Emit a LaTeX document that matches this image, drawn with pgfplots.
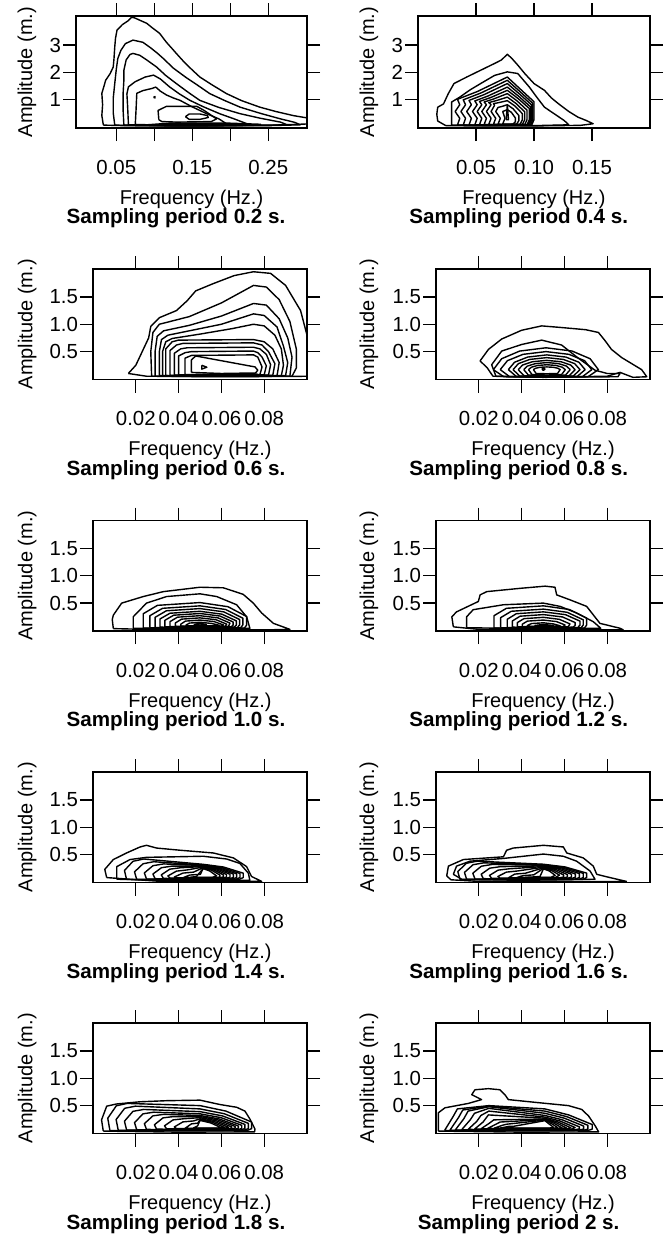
\documentclass[border=0pt]{standalone}
\usepackage{fontspec}
\setmainfont{Liberation Sans}
\usepackage{pgfplots}
\pgfplotsset{compat=1.18}

\newcommand\tkf{\fontsize{10.2}{12}\selectfont}
\newcommand\lbf{\fontsize{10}{12}\selectfont}
\newcommand\ttf{\fontsize{10.3}{12}\selectfont\bfseries}

\pgfplotsset{
  panel/.style={
    scale only axis, anchor=north west,
    axis line style={line width=0.8pt},
    tick align=outside, major tick length=6.5pt,
    every tick/.style={black, line width=0.65pt},
    scaled ticks=false,
    tick label style={font=\tkf},
    xticklabel style={yshift=-6pt},
    yticklabel style={xshift=2.5pt},
    xlabel={Frequency (Hz.)}, ylabel={Amplitude (m.)},
    label style={font=\lbf},
    xlabel style={at={(axis description cs:0.5,0)}, anchor=center, yshift=-35.5pt},
    clip=true,
  },
  toprow/.style={panel, height=56pt, ymin=-0.057, ymax=4.068,
    ytick={1,2,3}, yticklabels={1,2,3}},
  lowrow/.style={panel, width=107pt, height=55.25pt,
    xmin=0, xmax=0.1, ymin=-0.01, ymax=2.01,
    xtick={0.02,0.04,0.06,0.08}, xticklabels={0.02,0.04,0.06,0.08},
    ytick={0.5,1,1.5}, yticklabels={0.5,1.0,1.5}},
  ylab/.style={ylabel style={at={(axis description cs:#1,0.5)}, anchor=center}},
  ttl/.style={every axis title/.style={at={(axis description cs:#1,0)},
    anchor=center, yshift=-45.3pt, font=\ttf}},
  cl/.style={black, line width=0.7pt, mark=none, line join=round},
}

\begin{document}
\begin{tikzpicture}
\path[use as bounding box] (0,0) rectangle (335pt,-618pt);
\clip (0,0) rectangle (335pt,-618pt);

% ---------------- sampling period 0.2 s
\begin{axis}[toprow, at={(38pt,-8pt)}, width=115.5pt,
  xmin=-0.003, xmax=0.301,
  xtick={0.05,0.1,0.15,0.2,0.25}, xticklabels={0.05,,0.15,,0.25},
  ylab=-0.212, ttl=0.4329, title={Sampling period 0.2 s.}]
\addplot[cl] coordinates {(0.033,0.05) (0.031,0.40) (0.032,0.80) (0.031,1.22) (0.034,1.50) (0.036,1.70) (0.042,1.95) (0.046,2.19) (0.047,2.50) (0.048,2.93) (0.049,3.25) (0.051,3.55) (0.058,3.75) (0.066,3.90) (0.070,4.02) (0.074,4.00) (0.082,3.90) (0.090,3.80) (0.098,3.62) (0.107,3.43) (0.116,3.10) (0.124,2.85) (0.129,2.69) (0.140,2.35) (0.150,2.08) (0.160,1.82) (0.175,1.55) (0.195,1.21) (0.215,0.95) (0.239,0.71) (0.260,0.55) (0.283,0.40) (0.300,0.32) (0.310,0.28) (0.310,0.10) (0.25,0.04) (0.15,0.02) (0.06,0.03) (0.033,0.05)};
\addplot[cl] coordinates {(0.048,0.05) (0.046,0.50) (0.046,1.04) (0.048,1.58) (0.050,2.10) (0.052,2.50) (0.056,2.80) (0.062,3.05) (0.072,3.18) (0.085,3.10) (0.095,2.90) (0.104,2.70) (0.112,2.50) (0.125,2.15) (0.141,1.82) (0.158,1.50) (0.173,1.21) (0.193,0.95) (0.213,0.71) (0.240,0.48) (0.266,0.28) (0.285,0.15) (0.292,0.06) (0.25,0.03) (0.15,0.02) (0.08,0.03) (0.048,0.05)};
\addplot[cl] coordinates {(0.060,0.05) (0.059,0.60) (0.059,1.22) (0.060,1.70) (0.060,2.07) (0.063,2.45) (0.068,2.65) (0.072,2.69) (0.081,2.62) (0.090,2.45) (0.103,2.19) (0.115,1.88) (0.129,1.58) (0.145,1.25) (0.160,0.96) (0.185,0.70) (0.213,0.47) (0.240,0.30) (0.266,0.16) (0.275,0.06) (0.2,0.03) (0.1,0.03) (0.060,0.05)};
\addplot[cl] coordinates {(0.066,0.06) (0.065,0.70) (0.064,1.20) (0.066,1.46) (0.075,1.65) (0.088,1.82) (0.099,1.89) (0.108,1.75) (0.120,1.46) (0.133,1.20) (0.147,0.96) (0.165,0.72) (0.186,0.47) (0.205,0.28) (0.222,0.10) (0.2,0.05) (0.12,0.04) (0.066,0.06)};
\addplot[cl] coordinates {(0.075,0.07) (0.076,0.60) (0.077,1.22) (0.085,1.32) (0.097,1.40) (0.102,1.45) (0.108,1.30) (0.116,1.16) (0.125,1.05) (0.134,0.96) (0.150,0.72) (0.169,0.47) (0.185,0.28) (0.195,0.10) (0.15,0.06) (0.1,0.06) (0.075,0.07)};
\addplot[cl] coordinates {(0.099,1.07) (0.101,1.10) (0.101,1.05) (0.099,1.07)};
\addplot[cl] coordinates {(0.106,0.25) (0.105,0.59) (0.116,0.74) (0.156,0.74) (0.165,0.60) (0.182,0.28) (0.175,0.18) (0.130,0.16) (0.110,0.18) (0.106,0.25)};
\addplot[cl] coordinates {(0.141,0.36) (0.146,0.46) (0.160,0.46) (0.170,0.40) (0.171,0.33) (0.160,0.26) (0.146,0.26) (0.141,0.36)};
\addplot[cl] coordinates {(0.09,0.06) (0.12,0.12) (0.20,0.12) (0.24,0.08) (0.22,0.04) (0.10,0.04) (0.09,0.06)};
\addplot[cl] coordinates {(0.10,0.05) (0.14,0.09) (0.19,0.09) (0.21,0.06) (0.18,0.03) (0.11,0.03) (0.10,0.05)};
\end{axis}

% ---------------- sampling period 0.4 s
\begin{axis}[toprow, at={(209pt,-8pt)}, width=116pt,
  xmin=0, xmax=0.2,
  xtick={0.05,0.1,0.15}, xticklabels={0.05,0.10,0.15},
  ylab=-0.211, ttl=0.434, title={Sampling period 0.4 s.}]
\addplot[cl] coordinates {(0.024,0.03) (0.017,0.20) (0.0162,0.45) (0.017,0.71) (0.022,0.83) (0.026,1.20) (0.031,1.58) (0.042,1.82) (0.054,2.07) (0.066,2.32) (0.072,2.45) (0.077,2.66) (0.081,2.50) (0.086,2.26) (0.092,1.95) (0.100,1.58) (0.109,1.33) (0.115,1.05) (0.121,0.84) (0.130,0.55) (0.138,0.34) (0.145,0.22) (0.151,0.10) (0.14,0.04) (0.10,0.02) (0.05,0.02) (0.024,0.03)};
\addplot[cl] coordinates {(0.029,0.05) (0.029,0.50) (0.029,0.90) (0.036,1.08) (0.045,1.35) (0.054,1.58) (0.066,1.88) (0.077,2.01) (0.086,1.95) (0.091,1.70) (0.096,1.45) (0.102,1.10) (0.109,0.71) (0.118,0.45) (0.126,0.22) (0.130,0.06) (0.10,0.03) (0.029,0.05)};
\addplot[cl] coordinates {(0.034,0.05) (0.036,0.30) (0.032,0.55) (0.036,0.80) (0.034,1.00) (0.0512,1.287) (0.077,1.82) (0.0885,1.364) (0.100,0.91) (0.100,0.25) (0.098,0.05) (0.06,0.035) (0.034,0.05)};
\addplot[cl] coordinates {(0.039,0.05) (0.041,0.30) (0.037,0.55) (0.041,0.80) (0.039,0.98) (0.0542,1.232) (0.077,1.70) (0.088,1.28) (0.099,0.85) (0.099,0.25) (0.097,0.05) (0.06,0.04) (0.039,0.05)};
\addplot[cl] coordinates {(0.044,0.055) (0.046,0.30) (0.042,0.55) (0.046,0.80) (0.044,0.96) (0.0572,1.177) (0.077,1.58) (0.0875,1.196) (0.098,0.79) (0.098,0.25) (0.096,0.055) (0.06,0.045) (0.044,0.055)};
\addplot[cl] coordinates {(0.049,0.06) (0.051,0.30) (0.047,0.55) (0.051,0.80) (0.049,0.94) (0.0602,1.119) (0.077,1.45) (0.087,1.105) (0.097,0.72) (0.097,0.25) (0.095,0.06) (0.06,0.05) (0.049,0.06)};
\addplot[cl] coordinates {(0.053,0.065) (0.055,0.30) (0.051,0.55) (0.055,0.80) (0.053,0.92) (0.0626,1.064) (0.077,1.33) (0.0865,1.021) (0.096,0.66) (0.096,0.25) (0.094,0.065) (0.07,0.055) (0.053,0.065)};
\addplot[cl] coordinates {(0.057,0.07) (0.059,0.30) (0.055,0.55) (0.059,0.80) (0.057,0.90) (0.065,1.009) (0.077,1.21) (0.0855,0.937) (0.094,0.60) (0.094,0.25) (0.092,0.07) (0.07,0.06) (0.057,0.07)};
\addplot[cl] coordinates {(0.061,0.075) (0.063,0.30) (0.059,0.55) (0.063,0.80) (0.061,0.88) (0.0674,0.95) (0.077,1.08) (0.0845,0.846) (0.092,0.54) (0.092,0.25) (0.090,0.075) (0.07,0.065) (0.061,0.075)};
\addplot[cl] coordinates {(0.065,0.08) (0.067,0.30) (0.063,0.55) (0.066,0.78) (0.065,0.84) (0.0698,0.879) (0.077,0.95) (0.0835,0.755) (0.090,0.47) (0.090,0.25) (0.088,0.08) (0.075,0.07) (0.065,0.08)};
\addplot[cl] coordinates {(0.069,0.085) (0.071,0.30) (0.067,0.55) (0.069,0.70) (0.0722,0.735) (0.077,0.80) (0.082,0.65) (0.087,0.40) (0.087,0.22) (0.085,0.085) (0.075,0.075) (0.069,0.085)};
\addplot[cl] coordinates {(0.073,0.09) (0.075,0.30) (0.073,0.55) (0.0746,0.577) (0.077,0.62) (0.0805,0.52) (0.084,0.31) (0.084,0.18) (0.082,0.09) (0.073,0.09)};
\addplot[cl] coordinates {(0.076,0.25) (0.077,0.80) (0.078,0.25) (0.076,0.25)};
\end{axis}

% ---------------- sampling period 0.6 s
\begin{axis}[lowrow, at={(46.5pt,-134.5pt)},
  ylab=-0.308, ttl=0.3879, title={Sampling period 0.6 s.}]
\addplot[cl] coordinates {(0.0165,0.10) (0.020,0.25) (0.023,0.50) (0.026,0.75) (0.027,0.96) (0.031,1.12) (0.039,1.25) (0.044,1.43) (0.048,1.61) (0.056,1.74) (0.066,1.89) (0.075,1.96) (0.083,1.93) (0.090,1.71) (0.097,1.25) (0.100,0.80) (0.104,0.50) (0.104,0.05) (0.06,0.04) (0.025,0.05) (0.0165,0.10)};
\addplot[cl] coordinates {(0.0274,0.05) (0.027,0.50) (0.028,0.85) (0.031,1.00) (0.045,1.14) (0.060,1.39) (0.075,1.71) (0.081,1.68) (0.087,1.45) (0.092,1.05) (0.095,0.55) (0.095,0.20) (0.093,0.05) (0.06,0.045) (0.0274,0.05)};
\addplot[cl] coordinates {(0.029,0.05) (0.029,0.50) (0.030,0.78) (0.033,0.88) (0.045,0.98) (0.060,1.15) (0.075,1.38) (0.081,1.35) (0.087,1.10) (0.091,0.75) (0.093,0.40) (0.092,0.05) (0.06,0.05) (0.029,0.05)};
\addplot[cl] coordinates {(0.031,0.06) (0.031,0.50) (0.032,0.72) (0.035,0.80) (0.045,0.88) (0.060,1.00) (0.075,1.19) (0.080,1.16) (0.086,0.95) (0.089,0.60) (0.091,0.30) (0.090,0.06) (0.06,0.05) (0.031,0.06)};
\addplot[cl] coordinates {(0.0325,0.06) (0.0325,0.50) (0.034,0.68) (0.037,0.74) (0.050,0.82) (0.065,0.92) (0.075,1.00) (0.080,0.97) (0.085,0.80) (0.088,0.55) (0.089,0.25) (0.088,0.06) (0.06,0.055) (0.0325,0.06)};
\addplot[cl] coordinates {(0.034,0.06) (0.034,0.55) (0.037,0.68) (0.040,0.71) (0.075,0.72) (0.080,0.68) (0.084,0.55) (0.087,0.30) (0.086,0.06) (0.06,0.06) (0.034,0.06)};
\addplot[cl] coordinates {(0.036,0.065) (0.036,0.52) (0.039,0.62) (0.042,0.65) (0.075,0.66) (0.079,0.62) (0.082,0.50) (0.085,0.28) (0.084,0.065) (0.06,0.06) (0.036,0.065)};
\addplot[cl] coordinates {(0.038,0.07) (0.038,0.47) (0.041,0.55) (0.044,0.57) (0.075,0.58) (0.078,0.55) (0.081,0.45) (0.083,0.26) (0.082,0.07) (0.06,0.065) (0.038,0.07)};
\addplot[cl] coordinates {(0.040,0.075) (0.040,0.42) (0.043,0.48) (0.046,0.50) (0.075,0.51) (0.077,0.48) (0.079,0.40) (0.081,0.24) (0.080,0.075) (0.06,0.07) (0.040,0.075)};
\addplot[cl] coordinates {(0.043,0.08) (0.043,0.38) (0.046,0.43) (0.075,0.44) (0.077,0.40) (0.079,0.22) (0.078,0.08) (0.06,0.075) (0.043,0.08)};
\addplot[cl] coordinates {(0.046,0.12) (0.046,0.35) (0.048,0.42) (0.0757,0.22) (0.077,0.16) (0.076,0.11) (0.06,0.10) (0.046,0.12)};
\addplot[cl] coordinates {(0.0508,0.25) (0.0532,0.215) (0.0508,0.18) (0.0508,0.25)};
\addplot[cl] coordinates {(0.048,0.085) (0.075,0.095) (0.077,0.085) (0.06,0.078) (0.048,0.085)};
\end{axis}

% ---------------- sampling period 0.8 s
\begin{axis}[lowrow, at={(218pt,-134.5pt)},
  ylab=-0.313, ttl=0.3864, title={Sampling period 0.8 s.}]
\addplot[cl] coordinates {(0.0266,0.05) (0.024,0.20) (0.0206,0.33) (0.0245,0.54) (0.0307,0.73) (0.040,0.89) (0.0494,0.97) (0.0587,0.94) (0.0700,0.90) (0.0759,0.85) (0.079,0.70) (0.082,0.54) (0.0868,0.39) (0.0961,0.17) (0.0985,0.04) (0.092,0.03) (0.086,0.12) (0.080,0.05) (0.05,0.03) (0.0266,0.05)};
\addplot[cl] coordinates {(0.028,0.05) (0.026,0.26) (0.0307,0.51) (0.040,0.63) (0.0494,0.71) (0.0587,0.62) (0.0665,0.38) (0.0743,0.16) (0.080,0.10) (0.086,0.10) (0.085,0.04) (0.05,0.035) (0.028,0.05)};
\addplot[cl] coordinates {(0.0268,0.17) (0.0307,0.37) (0.0391,0.51) (0.0514,0.57) (0.0636,0.51) (0.0720,0.37) (0.0759,0.17) (0.0710,0.04) (0.0514,0.03) (0.0317,0.04) (0.0268,0.17)};
\addplot[cl] coordinates {(0.030,0.17) (0.0334,0.335) (0.0407,0.45) (0.0514,0.50) (0.0621,0.45) (0.0694,0.335) (0.0728,0.17) (0.0685,0.045) (0.0514,0.035) (0.0343,0.045) (0.030,0.17)};
\addplot[cl] coordinates {(0.0338,0.17) (0.0367,0.305) (0.0428,0.40) (0.0518,0.44) (0.0607,0.40) (0.0668,0.305) (0.0697,0.17) (0.0661,0.05) (0.0518,0.04) (0.0374,0.05) (0.0338,0.17)};
\addplot[cl] coordinates {(0.036,0.17) (0.0385,0.28) (0.0438,0.357) (0.0517,0.39) (0.0595,0.357) (0.0648,0.28) (0.0673,0.17) (0.0642,0.055) (0.0517,0.045) (0.0391,0.055) (0.036,0.17)};
\addplot[cl] coordinates {(0.0384,0.17) (0.0405,0.255) (0.0451,0.315) (0.0517,0.34) (0.0584,0.315) (0.0629,0.255) (0.065,0.17) (0.0623,0.06) (0.0517,0.05) (0.0411,0.06) (0.0384,0.17)};
\addplot[cl] coordinates {(0.041,0.17) (0.0427,0.235) (0.0464,0.28) (0.0519,0.30) (0.0573,0.28) (0.061,0.235) (0.0627,0.17) (0.0605,0.07) (0.0519,0.06) (0.0432,0.07) (0.041,0.17)};
\addplot[cl] coordinates {(0.0432,0.17) (0.0446,0.215) (0.0475,0.247) (0.0518,0.26) (0.0561,0.247) (0.059,0.215) (0.0604,0.17) (0.0587,0.08) (0.0518,0.072) (0.0449,0.08) (0.0432,0.17)};
\addplot[cl] coordinates {(0.0455,0.17) (0.0465,0.195) (0.0486,0.213) (0.0518,0.22) (0.0549,0.213) (0.057,0.195) (0.058,0.17) (0.0568,0.10) (0.0518,0.095) (0.0468,0.10) (0.0455,0.17)};
\addplot[cl] coordinates {(0.0495,0.18) (0.0502,0.205) (0.0509,0.18) (0.0502,0.155) (0.0495,0.18)};
\end{axis}

% ---------------- sampling period 1.0 s
\begin{axis}[lowrow, at={(46.5pt,-260.25pt)},
  ylab=-0.308, ttl=0.3879, title={Sampling period 1.0 s.}]
\addplot[cl] coordinates {(0.0095,0.034) (0.0090,0.20) (0.0095,0.28) (0.0134,0.50) (0.0235,0.62) (0.0329,0.71) (0.050,0.79) (0.0609,0.78) (0.0702,0.66) (0.0749,0.50) (0.0788,0.32) (0.0843,0.13) (0.092,0.02) (0.08,0.01) (0.03,0.015) (0.0095,0.034)};
\addplot[cl] coordinates {(0.0188,0.04) (0.0188,0.25) (0.025,0.50) (0.0344,0.62) (0.050,0.67) (0.0578,0.62) (0.0671,0.47) (0.0718,0.25) (0.0733,0.04) (0.05,0.03) (0.0188,0.04)};
\addplot[cl] coordinates {(0.0235,0.045) (0.0235,0.306) (0.0301,0.459) (0.050,0.51) (0.0631,0.434) (0.0718,0.255) (0.0718,0.10) (0.0708,0.045) (0.05,0.04) (0.0235,0.045)};
\addplot[cl] coordinates {(0.0266,0.05) (0.0266,0.27) (0.0325,0.405) (0.050,0.45) (0.062,0.383) (0.070,0.225) (0.070,0.10) (0.069,0.05) (0.05,0.045) (0.0266,0.05)};
\addplot[cl] coordinates {(0.029,0.055) (0.029,0.24) (0.0343,0.36) (0.050,0.40) (0.0611,0.34) (0.0685,0.20) (0.0685,0.10) (0.0675,0.055) (0.05,0.05) (0.029,0.055)};
\addplot[cl] coordinates {(0.0313,0.06) (0.0313,0.21) (0.036,0.315) (0.050,0.35) (0.0602,0.298) (0.067,0.175) (0.067,0.10) (0.066,0.06) (0.05,0.055) (0.0313,0.06)};
\addplot[cl] coordinates {(0.0336,0.065) (0.0336,0.186) (0.0377,0.279) (0.050,0.31) (0.0593,0.264) (0.0655,0.155) (0.0655,0.10) (0.0645,0.065) (0.05,0.06) (0.0336,0.065)};
\addplot[cl] coordinates {(0.036,0.07) (0.036,0.162) (0.0395,0.243) (0.050,0.27) (0.0584,0.23) (0.064,0.135) (0.0635,0.09) (0.063,0.07) (0.05,0.065) (0.036,0.07)};
\addplot[cl] coordinates {(0.0385,0.075) (0.0385,0.138) (0.0414,0.207) (0.050,0.23) (0.0575,0.196) (0.0625,0.115) (0.062,0.085) (0.0615,0.075) (0.05,0.07) (0.0385,0.075)};
\addplot[cl] coordinates {(0.041,0.08) (0.041,0.114) (0.0432,0.171) (0.050,0.19) (0.0566,0.162) (0.061,0.10) (0.060,0.08) (0.05,0.078) (0.041,0.08)};
\addplot[cl] coordinates {(0.0435,0.085) (0.0435,0.10) (0.0451,0.135) (0.050,0.15) (0.0554,0.128) (0.059,0.095) (0.058,0.085) (0.05,0.083) (0.0435,0.085)};
\addplot[cl] coordinates {(0.047,0.11) (0.050,0.13) (0.053,0.11) (0.050,0.095) (0.047,0.11)};
\end{axis}

% ---------------- sampling period 1.2 s
\begin{axis}[lowrow, at={(218pt,-260.25pt)},
  ylab=-0.313, ttl=0.3864, title={Sampling period 1.2 s.}]
\addplot[cl] coordinates {(0.0081,0.066) (0.0074,0.25) (0.0096,0.34) (0.0198,0.53) (0.0206,0.65) (0.0237,0.71) (0.0393,0.77) (0.051,0.81) (0.0556,0.79) (0.0564,0.65) (0.0626,0.56) (0.0704,0.44) (0.0766,0.13) (0.086,0.04) (0.0875,0.01) (0.06,0.01) (0.02,0.02) (0.0081,0.066)};
\addplot[cl] coordinates {(0.0143,0.05) (0.0143,0.25) (0.0174,0.38) (0.0315,0.47) (0.0502,0.50) (0.058,0.44) (0.0657,0.32) (0.0735,0.16) (0.077,0.04) (0.05,0.03) (0.0143,0.05)};
\addplot[cl] coordinates {(0.0271,0.045) (0.0271,0.27) (0.0329,0.405) (0.0502,0.45) (0.0623,0.383) (0.0704,0.225) (0.0704,0.10) (0.0694,0.045) (0.05,0.04) (0.0271,0.045)};
\addplot[cl] coordinates {(0.0302,0.05) (0.0302,0.234) (0.0352,0.351) (0.0502,0.39) (0.0613,0.332) (0.0688,0.195) (0.0688,0.10) (0.0678,0.05) (0.05,0.045) (0.0302,0.05)};
\addplot[cl] coordinates {(0.0333,0.055) (0.0333,0.204) (0.0375,0.306) (0.0502,0.34) (0.0605,0.289) (0.0673,0.17) (0.0673,0.10) (0.0663,0.055) (0.05,0.05) (0.0333,0.055)};
\addplot[cl] coordinates {(0.0357,0.06) (0.0357,0.174) (0.0393,0.261) (0.0502,0.29) (0.0591,0.247) (0.065,0.145) (0.065,0.09) (0.064,0.06) (0.05,0.055) (0.0357,0.06)};
\addplot[cl] coordinates {(0.038,0.065) (0.038,0.144) (0.0411,0.216) (0.0502,0.24) (0.0576,0.204) (0.0626,0.12) (0.062,0.08) (0.0615,0.065) (0.05,0.062) (0.038,0.065)};
\addplot[cl] coordinates {(0.0403,0.07) (0.0403,0.114) (0.0427,0.171) (0.0502,0.19) (0.0563,0.162) (0.0603,0.10) (0.0595,0.07) (0.05,0.068) (0.0403,0.07)};
\addplot[cl] coordinates {(0.0427,0.075) (0.0427,0.09) (0.0446,0.126) (0.0502,0.14) (0.0549,0.119) (0.058,0.085) (0.057,0.075) (0.05,0.073) (0.0427,0.075)};
\addplot[cl] coordinates {(0.046,0.09) (0.0502,0.11) (0.055,0.09) (0.0502,0.08) (0.046,0.09)};
\end{axis}

% ---------------- sampling period 1.4 s
\begin{axis}[lowrow, at={(46.5pt,-386pt)},
  ylab=-0.308, ttl=0.3879, title={Sampling period 1.4 s.}]
\addplot[cl] coordinates {(0.0064,0.08) (0.0055,0.23) (0.0095,0.41) (0.0157,0.53) (0.022,0.64) (0.025,0.67) (0.0297,0.62) (0.0407,0.58) (0.0562,0.53) (0.0656,0.44) (0.0718,0.28) (0.0741,0.10) (0.0788,0.01) (0.07,0.01) (0.03,0.015) (0.0064,0.08)};
\addplot[cl] coordinates {(0.0111,0.05) (0.0111,0.28) (0.0173,0.41) (0.025,0.45) (0.0515,0.47) (0.0624,0.42) (0.0686,0.34) (0.0726,0.16) (0.0733,0.03) (0.04,0.025) (0.0111,0.05)};
\addplot[cl] coordinates {(0.0157,0.045) (0.0147,0.21) (0.0187,0.378) (0.0237,0.42) (0.0515,0.3225) (0.0609,0.274) (0.0702,0.161) (0.0702,0.08) (0.0682,0.045) (0.04,0.04) (0.0157,0.045)};
\addplot[cl] coordinates {(0.0204,0.05) (0.0194,0.185) (0.0234,0.333) (0.0284,0.37) (0.0515,0.31) (0.0601,0.264) (0.0687,0.155) (0.0687,0.08) (0.0667,0.05) (0.04,0.045) (0.0204,0.05)};
\addplot[cl] coordinates {(0.025,0.055) (0.024,0.165) (0.028,0.297) (0.033,0.33) (0.0515,0.30) (0.0593,0.255) (0.0671,0.15) (0.0671,0.08) (0.0651,0.055) (0.04,0.05) (0.025,0.055)};
\addplot[cl] coordinates {(0.029,0.06) (0.028,0.145) (0.032,0.261) (0.037,0.29) (0.0515,0.29) (0.0586,0.2465) (0.0656,0.145) (0.0656,0.08) (0.0636,0.06) (0.04,0.055) (0.029,0.06)};
\addplot[cl] coordinates {(0.0329,0.065) (0.0319,0.13) (0.0359,0.234) (0.0409,0.26) (0.0515,0.2825) (0.0578,0.24) (0.064,0.141) (0.064,0.085) (0.062,0.065) (0.045,0.06) (0.0329,0.065)};
\addplot[cl] coordinates {(0.036,0.07) (0.035,0.11) (0.039,0.198) (0.044,0.22) (0.0515,0.2725) (0.057,0.232) (0.0624,0.136) (0.0624,0.09) (0.0604,0.07) (0.045,0.066) (0.036,0.07)};
\addplot[cl] coordinates {(0.039,0.075) (0.038,0.09) (0.042,0.162) (0.047,0.18) (0.0515,0.2625) (0.0562,0.223) (0.0609,0.131) (0.0609,0.09) (0.0589,0.075) (0.045,0.072) (0.039,0.075)};
\addplot[cl] coordinates {(0.0422,0.08) (0.0452,0.126) (0.0502,0.14) (0.0515,0.2525) (0.0554,0.215) (0.0593,0.126) (0.0593,0.09) (0.0573,0.08) (0.0422,0.08)};
\addplot[cl] coordinates {(0.0453,0.085) (0.0483,0.10) (0.0515,0.245) (0.0546,0.20) (0.0578,0.11) (0.0558,0.085) (0.0453,0.085)};
\end{axis}

% ---------------- sampling period 1.6 s
\begin{axis}[lowrow, at={(218pt,-386pt)},
  ylab=-0.313, ttl=0.3864, title={Sampling period 1.6 s.}]
\addplot[cl] coordinates {(0.0050,0.11) (0.0058,0.29) (0.0128,0.41) (0.0315,0.46) (0.0330,0.58) (0.0361,0.62) (0.0502,0.67) (0.0595,0.64) (0.0611,0.53) (0.0688,0.44) (0.0735,0.29) (0.0751,0.14) (0.0813,0.08) (0.089,0.01) (0.07,0.005) (0.02,0.01) (0.0070,0.04) (0.0050,0.11)};
\addplot[cl] coordinates {(0.0081,0.14) (0.0096,0.29) (0.0159,0.38) (0.0315,0.43) (0.0502,0.51) (0.0595,0.47) (0.0657,0.38) (0.072,0.20) (0.0743,0.05) (0.04,0.03) (0.012,0.05) (0.0081,0.14)};
\addplot[cl] coordinates {(0.0112,0.045) (0.0102,0.19) (0.0142,0.342) (0.0192,0.38) (0.0502,0.324) (0.0603,0.275) (0.0704,0.162) (0.0704,0.08) (0.0684,0.045) (0.04,0.04) (0.0112,0.045)};
\addplot[cl] coordinates {(0.0143,0.05) (0.0133,0.175) (0.0173,0.315) (0.0223,0.35) (0.0502,0.315) (0.0595,0.268) (0.0688,0.158) (0.0688,0.08) (0.0668,0.05) (0.04,0.045) (0.0143,0.05)};
\addplot[cl] coordinates {(0.0182,0.055) (0.0172,0.16) (0.0212,0.288) (0.0262,0.32) (0.0502,0.306) (0.0586,0.26) (0.067,0.153) (0.067,0.08) (0.065,0.055) (0.04,0.05) (0.0182,0.055)};
\addplot[cl] coordinates {(0.0221,0.06) (0.0211,0.14) (0.0251,0.252) (0.0301,0.28) (0.0502,0.294) (0.0577,0.25) (0.0651,0.147) (0.0651,0.085) (0.0631,0.06) (0.04,0.055) (0.0221,0.06)};
\addplot[cl] coordinates {(0.026,0.065) (0.025,0.12) (0.029,0.216) (0.034,0.24) (0.0502,0.282) (0.0568,0.24) (0.0633,0.141) (0.0633,0.09) (0.0613,0.065) (0.045,0.06) (0.026,0.065)};
\addplot[cl] coordinates {(0.0299,0.07) (0.0289,0.10) (0.0329,0.18) (0.0379,0.20) (0.0502,0.27) (0.0558,0.23) (0.0614,0.135) (0.0614,0.09) (0.0594,0.07) (0.045,0.066) (0.0299,0.07)};
\addplot[cl] coordinates {(0.0338,0.075) (0.0368,0.144) (0.0418,0.16) (0.0502,0.258) (0.0549,0.219) (0.0596,0.129) (0.0596,0.09) (0.0576,0.075) (0.045,0.072) (0.0338,0.075)};
\addplot[cl] coordinates {(0.0377,0.08) (0.0407,0.117) (0.0457,0.13) (0.0502,0.249) (0.054,0.21) (0.0577,0.125) (0.0557,0.08) (0.0377,0.08)};
\addplot[cl] coordinates {(0.0416,0.085) (0.0446,0.09) (0.0486,0.10) (0.0502,0.24) (0.053,0.20) (0.0557,0.12) (0.0537,0.085) (0.0416,0.085)};
\end{axis}

% ---------------- sampling period 1.8 s
\begin{axis}[lowrow, at={(46.5pt,-511.5pt)},
  ylab=-0.308, ttl=0.3879, title={Sampling period 1.8 s.}]
\addplot[cl] coordinates {(0.0048,0.034) (0.0040,0.24) (0.0064,0.49) (0.011,0.53) (0.0219,0.57) (0.0344,0.59) (0.050,0.60) (0.0593,0.52) (0.0671,0.47) (0.071,0.40) (0.0734,0.25) (0.0757,0.07) (0.0755,0.02) (0.04,0.015) (0.0048,0.034)};
\addplot[cl] coordinates {(0.0079,0.045) (0.0069,0.27) (0.0109,0.497) (0.0159,0.54) (0.050,0.50) (0.0621,0.40) (0.0741,0.20) (0.0741,0.08) (0.0721,0.045) (0.03,0.04) (0.0079,0.045)};
\addplot[cl] coordinates {(0.0118,0.05) (0.0108,0.245) (0.0148,0.451) (0.0198,0.49) (0.050,0.44) (0.0613,0.352) (0.0726,0.176) (0.0726,0.08) (0.0706,0.05) (0.03,0.045) (0.0118,0.05)};
\addplot[cl] coordinates {(0.0157,0.055) (0.0147,0.215) (0.0187,0.396) (0.0237,0.43) (0.050,0.39) (0.0605,0.312) (0.071,0.156) (0.071,0.08) (0.069,0.055) (0.03,0.05) (0.0157,0.055)};
\addplot[cl] coordinates {(0.0204,0.06) (0.0194,0.19) (0.0234,0.35) (0.0284,0.38) (0.050,0.35) (0.0598,0.28) (0.0695,0.14) (0.0695,0.08) (0.0675,0.06) (0.03,0.055) (0.0204,0.06)};
\addplot[cl] coordinates {(0.025,0.065) (0.024,0.17) (0.028,0.313) (0.033,0.34) (0.050,0.32) (0.059,0.256) (0.0679,0.128) (0.0679,0.085) (0.0659,0.065) (0.04,0.06) (0.025,0.065)};
\addplot[cl] coordinates {(0.0297,0.07) (0.0287,0.15) (0.0327,0.276) (0.0377,0.30) (0.050,0.30) (0.0582,0.24) (0.0664,0.12) (0.0664,0.09) (0.0644,0.07) (0.04,0.066) (0.0297,0.07)};
\addplot[cl] coordinates {(0.0344,0.075) (0.0334,0.13) (0.0374,0.239) (0.0424,0.26) (0.050,0.28) (0.0574,0.224) (0.0648,0.112) (0.0648,0.09) (0.0628,0.075) (0.045,0.072) (0.0344,0.075)};
\addplot[cl] coordinates {(0.039,0.08) (0.038,0.11) (0.042,0.202) (0.047,0.22) (0.050,0.26) (0.0567,0.208) (0.0633,0.104) (0.0613,0.08) (0.045,0.078) (0.039,0.08)};
\addplot[cl] coordinates {(0.043,0.085) (0.046,0.166) (0.049,0.18) (0.050,0.245) (0.0558,0.196) (0.0617,0.098) (0.0597,0.085) (0.043,0.085)};
\addplot[cl] coordinates {(0.0469,0.09) (0.0489,0.13) (0.050,0.23) (0.055,0.184) (0.060,0.095) (0.058,0.09) (0.0469,0.09)};
\end{axis}

% ---------------- sampling period 2 s
\begin{axis}[lowrow, at={(218pt,-511.5pt)},
  ylab=-0.313, ttl=0.3864, title={Sampling period 2 s.}]
\addplot[cl] coordinates {(0.0011,0.034) (0.0011,0.37) (0.0042,0.46) (0.0151,0.54) (0.0213,0.61) (0.0167,0.70) (0.0182,0.79) (0.0245,0.81) (0.0299,0.79) (0.0322,0.70) (0.0338,0.61) (0.0463,0.56) (0.0619,0.50) (0.0681,0.43) (0.0713,0.31) (0.0744,0.13) (0.076,0.02) (0.04,0.015) (0.0011,0.034)};
\addplot[cl] coordinates {(0.004,0.045) (0.008,0.30) (0.010,0.44) (0.0247,0.50) (0.0509,0.44) (0.062,0.33) (0.073,0.154) (0.073,0.07) (0.071,0.045) (0.03,0.04) (0.004,0.045)};
\addplot[cl] coordinates {(0.0065,0.05) (0.0105,0.28) (0.0125,0.42) (0.0247,0.49) (0.0509,0.40) (0.061,0.30) (0.071,0.14) (0.071,0.07) (0.069,0.05) (0.03,0.045) (0.0065,0.05)};
\addplot[cl] coordinates {(0.009,0.055) (0.013,0.26) (0.015,0.40) (0.0247,0.48) (0.0509,0.36) (0.060,0.27) (0.069,0.126) (0.069,0.07) (0.067,0.055) (0.03,0.05) (0.009,0.055)};
\addplot[cl] coordinates {(0.012,0.06) (0.016,0.24) (0.018,0.36) (0.0247,0.45) (0.0509,0.32) (0.059,0.24) (0.067,0.112) (0.067,0.075) (0.065,0.06) (0.03,0.055) (0.012,0.06)};
\addplot[cl] coordinates {(0.015,0.065) (0.019,0.21) (0.021,0.32) (0.0247,0.40) (0.0509,0.29) (0.058,0.218) (0.065,0.10) (0.063,0.065) (0.03,0.06) (0.015,0.065)};
\addplot[cl] coordinates {(0.018,0.07) (0.022,0.20) (0.0245,0.33) (0.0509,0.27) (0.057,0.20) (0.063,0.095) (0.061,0.07) (0.03,0.066) (0.018,0.07)};
\addplot[cl] coordinates {(0.021,0.075) (0.025,0.18) (0.027,0.24) (0.0509,0.255) (0.056,0.19) (0.061,0.09) (0.059,0.075) (0.035,0.072) (0.021,0.075)};
\addplot[cl] coordinates {(0.024,0.08) (0.028,0.16) (0.030,0.20) (0.0509,0.245) (0.055,0.18) (0.059,0.09) (0.057,0.08) (0.024,0.08)};
\addplot[cl] coordinates {(0.027,0.085) (0.031,0.14) (0.033,0.16) (0.0509,0.235) (0.054,0.17) (0.057,0.095) (0.055,0.085) (0.027,0.085)};
\addplot[cl] coordinates {(0.030,0.09) (0.034,0.12) (0.036,0.12) (0.0509,0.225) (0.053,0.16) (0.055,0.10) (0.053,0.09) (0.030,0.09)};
\end{axis}
\end{tikzpicture}
\end{document}
